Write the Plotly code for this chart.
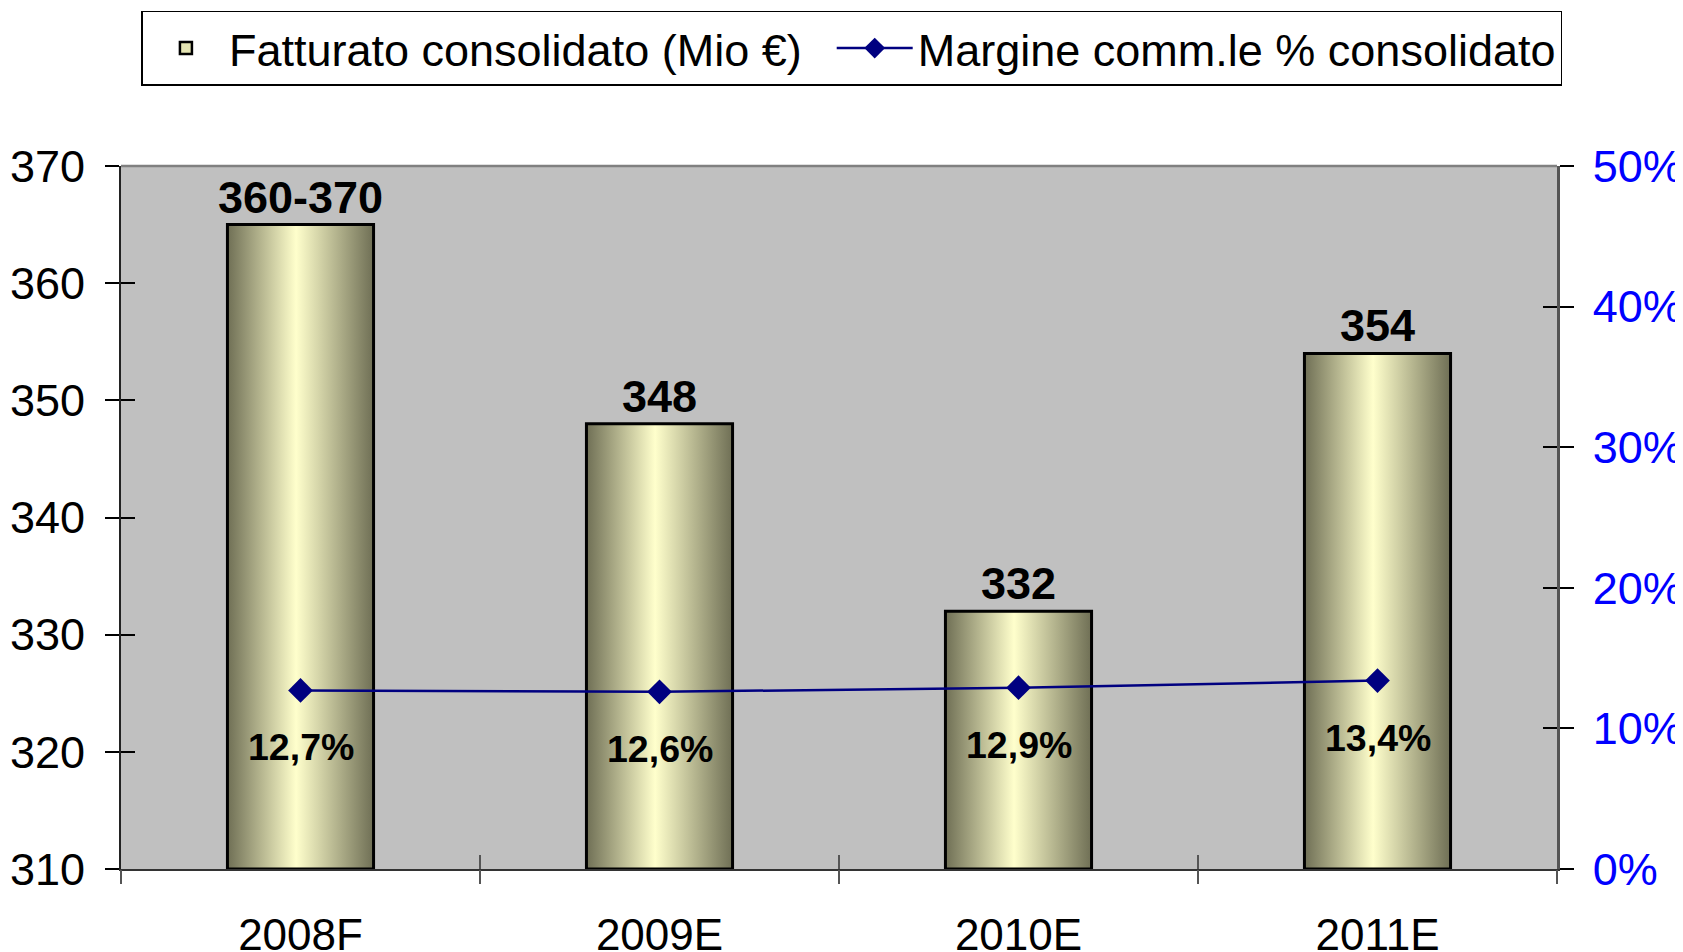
import plotly.graph_objects as go

# data
years = ["2008F", "2009E", "2010E", "2011E"]
fatturato = [365, 348, 332, 354]
fatturato_labels = ["360-370", "348", "332", "354"]
margine = [0.127, 0.126, 0.129, 0.134]
margine_labels = ["12,7%", "12,6%", "12,9%", "13,4%"]

FONT = "Liberation Sans, Arial, sans-serif"
BAR_W = 0.407
Y_MIN, Y_MAX = 310, 370
DARK = "#6f6f55"
LIGHT = "#ffffcc"

fig = go.Figure()

# legend entry for the bars (the gradient shapes themselves stay out of the legend)
fig.add_trace(go.Bar(
    x=[None], y=[None], name="Fatturato consolidato (Mio €)\u00a0\u00a0",
    marker=dict(color="#e6e6b4", line=dict(color="black", width=2.5)),
))

# bars as filled shapes so they can carry the horizontal gradient
for i, (yr, v) in enumerate(zip(years, fatturato)):
    x0, x1 = i - BAR_W / 2, i + BAR_W / 2
    fig.add_trace(go.Scatter(
        x=[x0, x0, x1, x1, x0], y=[Y_MIN, v, v, Y_MIN, Y_MIN],
        mode="lines", fill="toself",
        fillgradient=dict(type="horizontal",
                          colorscale=[[0, DARK], [0.47, LIGHT], [1, DARK]]),
        line=dict(color="black", width=3),
        name=yr, showlegend=False, hoverinfo="skip",
    ))

fig.add_trace(go.Scatter(
    x=list(range(len(years))), y=margine, yaxis="y2",
    mode="lines+markers",
    line=dict(color="#000080", width=2.5),
    marker=dict(symbol="diamond", size=19, color="#000080"),
    name="Margine comm.le % consolidato",
))

annotations = []
for i, (v, lab) in enumerate(zip(fatturato, fatturato_labels)):
    annotations.append(dict(x=i, y=v, xref="x", yref="y", text=f"<b>{lab}</b>",
                            showarrow=False, yanchor="bottom", yshift=0,
                            font=dict(family=FONT, size=45, color="black")))
for i, (m, lab) in enumerate(zip(margine, margine_labels)):
    annotations.append(dict(x=i, y=m, xref="x", yref="y2", text=f"<b>{lab}</b>",
                            showarrow=False, yanchor="middle", yshift=-57,
                            font=dict(family=FONT, size=37.5, color="black")))

bounds = [i - 0.5 for i in range(len(years) + 1)]
xr = [-0.5, len(years) - 0.5]

# page has an 8px body margin, so the figure is 8px smaller than the window
fig.update_layout(
    width=1675, height=944,
    margin=dict(l=113, r=126, t=158, b=83),
    paper_bgcolor="white", plot_bgcolor="#c0c0c0",
    font=dict(family=FONT, size=45, color="black"),
    showlegend=True,
    legend=dict(orientation="h", yref="container",
                x=0.509, xanchor="center", y=0.997, yanchor="top",
                bordercolor="black", borderwidth=1.5, bgcolor="white",
                font=dict(family=FONT, size=45), itemwidth=76,
                tracegroupgap=0),
    xaxis=dict(range=xr, tickvals=list(range(len(years))), ticktext=years,
               ticks="", showgrid=False, zeroline=False, automargin=False,
               showline=True, linecolor="#333333", linewidth=2,
               ticklabelstandoff=26, tickfont=dict(size=44)),
    xaxis2=dict(range=xr, overlaying="x", anchor="y", tickvals=bounds,
                showticklabels=False, ticks="outside", ticklen=14, automargin=False,
                tickcolor="#555555", tickwidth=2, showgrid=False, zeroline=False),
    xaxis3=dict(range=xr, overlaying="x", anchor="y", tickvals=bounds,
                showticklabels=False, ticks="inside", ticklen=14, automargin=False,
                tickcolor="#555555", tickwidth=2, showgrid=False, zeroline=False),
    yaxis=dict(range=[Y_MIN, Y_MAX], dtick=10, ticks="outside", ticklen=14,
               tickcolor="black", tickwidth=1.5, showgrid=False, zeroline=False,
               showline=True, linecolor="#222222", linewidth=2, automargin=False,
               ticklabelstandoff=11, tickfont=dict(size=45, color="black")),
    yaxis3=dict(range=[Y_MIN, Y_MAX], dtick=10, overlaying="y", side="left",
                ticks="inside", ticklen=14, tickcolor="black", tickwidth=1.5,
                automargin=False,
                showticklabels=False, showgrid=False, zeroline=False),
    yaxis2=dict(range=[0, 0.5], dtick=0.1, tickformat=".0%", overlaying="y",
                side="right", ticks="outside", ticklen=14, tickcolor="black",
                tickwidth=1.5, showgrid=False, zeroline=False, automargin=False,
                showline=True, linecolor="#555555", linewidth=2.5,
                ticklabelstandoff=10, tickfont=dict(size=45, color="#0000ff")),
    yaxis4=dict(range=[0, 0.5], dtick=0.1, overlaying="y", side="right",
                ticks="inside", ticklen=14, tickcolor="black", tickwidth=1.5,
                automargin=False,
                showticklabels=False, showgrid=False, zeroline=False),
    annotations=annotations,
    shapes=[dict(type="line", xref="paper", yref="paper", x0=0, x1=1, y0=1, y1=1,
                 line=dict(color="#808080", width=2.5))],
)

# dummy traces so the extra tick axes are rendered
fig.add_trace(go.Scatter(x=[None], y=[None], xaxis="x2", showlegend=False, hoverinfo="skip"))
fig.add_trace(go.Scatter(x=[None], y=[None], xaxis="x3", showlegend=False, hoverinfo="skip"))
fig.add_trace(go.Scatter(x=[None], y=[None], yaxis="y3", showlegend=False, hoverinfo="skip"))
fig.add_trace(go.Scatter(x=[None], y=[None], yaxis="y4", showlegend=False, hoverinfo="skip"))

fig.write_html("out.html")
